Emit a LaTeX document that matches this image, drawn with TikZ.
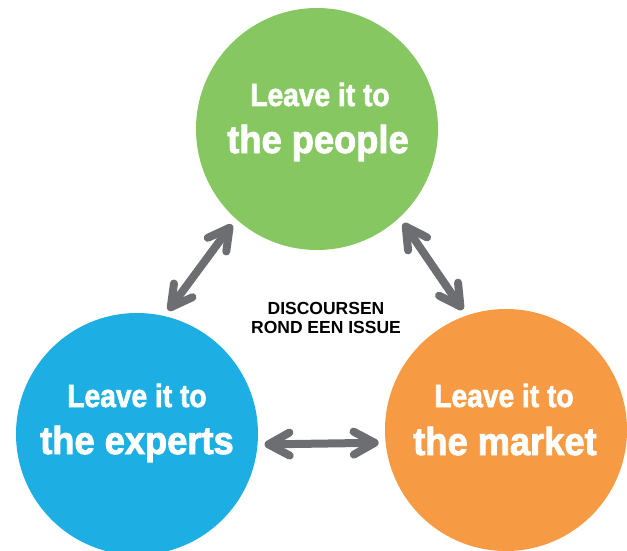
\documentclass[tikz,border=0pt]{standalone}
\usepackage{fontspec}
\setmainfont{Liberation Sans}
\newfontfamily\headsmall[FakeStretch=0.88, BoldFeatures={FakeBold=2}]{Liberation Sans}
\newfontfamily\headbig[FakeStretch=0.93, BoldFeatures={FakeBold=2.2}]{Liberation Sans}
\usetikzlibrary{arrows.meta}
\definecolor{peoplegreen}{RGB}{134,199,98}
\definecolor{expertblue}{RGB}{29,175,228}
\definecolor{marketorange}{RGB}{246,154,67}
\definecolor{arrowgray}{RGB}{109,110,113}
\tikzset{
  bubble/.style={circle, draw=none, minimum size=242pt, inner sep=0pt, outer sep=0pt},
  lineone/.style={anchor=base, text=white, inner sep=0pt, font=\headsmall\bfseries\fontsize{32}{32}\selectfont},
  linetwo/.style={anchor=base, text=white, inner sep=0pt, font=\headbig\bfseries\fontsize{39}{39}\selectfont},
  caption/.style={anchor=base, text=black, inner sep=0pt, font=\bfseries\fontsize{17.5}{17.5}\selectfont},
  link/.style={draw=arrowgray, line width=8pt,
    {Straight Barb[length=21pt, width=23pt, round]}-{Straight Barb[length=21pt, width=23pt, round]},
    shorten <=7pt, shorten >=7pt},
}
\begin{document}
\begin{tikzpicture}[x=1pt, y=-1pt]
  \useasboundingbox (0,0) rectangle (627,551);
  \clip (0,0) rectangle (627,551);

  % the three positions
  \node[bubble, fill=peoplegreen]  (people)  at (317,129) {};
  \node[bubble, fill=expertblue]   (experts) at (137,434) {};
  \node[bubble, fill=marketorange] (market)  at (506,430) {};

  % circle texts
  \node[lineone] (people1)  at (320,106) {Leave it to};
  \node[linetwo] (people2)  at (318,153) {the people};
  \node[lineone] (experts1) at (137,407) {Leave it to};
  \node[linetwo] (experts2) at (137,454) {the experts};
  \node[lineone] (market1)  at (504,407) {Leave it to};
  \node[linetwo] (market2)  at (505,455) {the market};

  % centre caption
  \node[caption] (disc1) at (326,314) {DISCOURSEN};
  \node[caption] (disc2) at (326,333) {ROND EEN ISSUE};

  % double-headed links between the circles
  \draw[link] (experts.77) -- (people.228);
  \draw[link] (people.313) -- (market.109);
  \draw[link] (experts.-5) -- (market.186);
\end{tikzpicture}
\end{document}
